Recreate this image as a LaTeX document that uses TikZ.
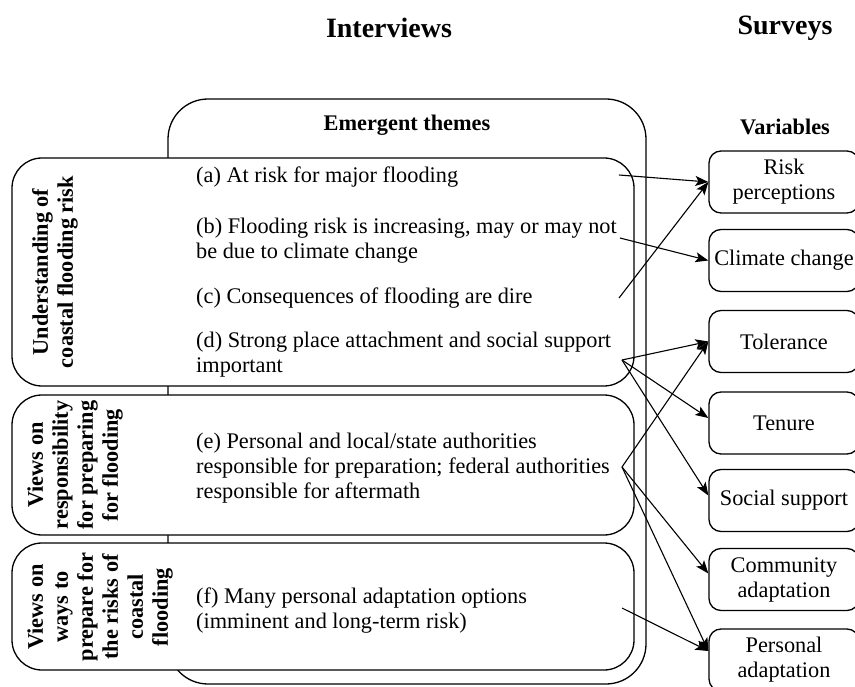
\documentclass[tikz,border=0pt]{standalone}
\usepackage{fontspec}
\setmainfont{Liberation Serif}
\usetikzlibrary{arrows.meta,positioning}

\newcommand{\bodyfont}{\fontsize{22.3}{25}\selectfont}
\newcommand{\headfont}{\fontsize{28}{32}\selectfont\bfseries}

\begin{document}
\begin{tikzpicture}[x=1pt,y=-1pt,>={Stealth[length=13pt,width=10pt,inset=3pt]},
  bigframe/.style={draw,line width=1.3pt,rounded corners=40pt,inner sep=0pt},
  themebox/.style={draw,line width=1.3pt,rounded corners=30pt,fill=white,inner sep=0pt},
  varbox/.style={draw,line width=1.3pt,rounded corners=12pt,minimum width=150pt,minimum height=62pt,align=center,font=\bodyfont,inner sep=0pt},
  themetext/.style={anchor=west,align=left,inner sep=0pt,font=\bodyfont},
  sidelabel/.style={rotate=90,align=center,inner sep=0pt,font=\bodyfont\bfseries},
  link/.style={->,line width=1.1pt}]
\useasboundingbox (0,0) rectangle (855,687);

% column heads
\node[font=\headfont] (interviews) at (389,28) {Interviews};
\node[font=\headfont] (surveys) at (785,28) {Surveys};

% interview side
\node[bigframe,minimum width=478pt,minimum height=585pt] (frame) at (407,391.5) {};
\node[font=\bodyfont\bfseries] (emergent) at (407,125) {Emergent themes};
\node[themebox,minimum width=622pt,minimum height=228pt] (understand) at (323,272) {};
\node[themebox,minimum width=622pt,minimum height=140pt] (respons) at (323,465) {};
\node[themebox,minimum width=622pt,minimum height=127pt] (prepare) at (323,606.5) {};
\node[sidelabel] (lab1) at (55,272) {Understanding of\\coastal flooding risk};
\node[sidelabel] (lab2) at (75,465) {Views on\\responsibility\\for preparing\\for flooding};
\node[sidelabel] (lab3) at (100,607) {Views on\\ways to\\prepare for\\the risks of\\coastal\\flooding};

\node[themetext] (ta) at (196,177) {(a) At risk for major flooding};
\node[themetext] (tb) at (196,241) {(b) Flooding risk is increasing, may or may not\\be due to climate change};
\node[themetext] (tc) at (196,298) {(c) Consequences of flooding are dire};
\node[themetext] (td) at (196,355) {(d) Strong place attachment and social support\\important};
\node[themetext] (te) at (196,468.5) {(e) Personal and local/state authorities\\responsible for preparation; federal authorities\\responsible for aftermath};
\node[themetext] (tf) at (196,610.5) {(f) Many personal adaptation options\\(imminent and long-term risk)};

% survey side
\node[font=\bodyfont\bfseries] (variables) at (785,127) {Variables};
\node[varbox] (risk) at (784,182) {Risk\\perceptions};
\node[varbox] (climate) at (784,260.5) {Climate change};
\node[varbox] (tolerance) at (784,341.5) {Tolerance};
\node[varbox] (tenure) at (784,423) {Tenure};
\node[varbox] (social) at (784,500.5) {Social support};
\node[varbox] (community) at (784,579.5) {Community\\adaptation};
\node[varbox] (personal) at (784,660) {Personal\\adaptation};

% arrow starts
\coordinate (sa) at (619,175);
\coordinate (sb) at (620,238);
\coordinate (sc) at (619,298);
\coordinate (sd) at (622,360);
\coordinate (se) at (622,467);
\coordinate (sf) at (622,608);

\draw[link] (sa) -- (risk.west);
\draw[link] (sb) -- (climate.west);
\draw[link] (sc) -- (risk.west);
\draw[link] (sd) -- (tolerance.west);
\draw[link] (sd) -- ([yshift=5pt]tenure.west);
\draw[link] (sd) -- ([yshift=5pt]social.west);
\draw[link] (se) -- (tolerance.west);
\draw[link] (se) -- ([yshift=6pt]community.west);
\draw[link] (se) -- ([yshift=9pt]personal.west);
\draw[link] (sf) -- ([yshift=9pt]personal.west);
\end{tikzpicture}
\end{document}
